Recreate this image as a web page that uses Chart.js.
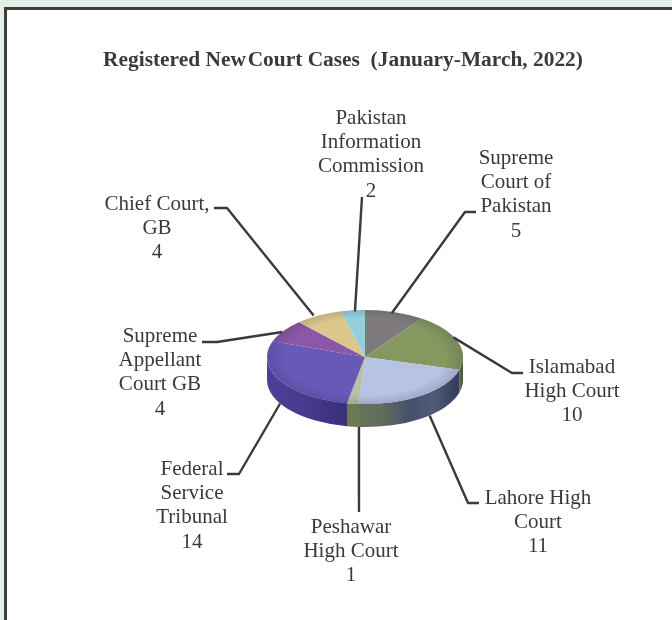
<!DOCTYPE html>
<html lang="en">

<head>
    <meta charset="UTF-8">
    <title>Registered New Court Cases</title>
    <script src="https://cdn.jsdelivr.net/npm/chart.js"></script>
    <style>
        html, body { margin: 0; padding: 0; background: #e3f0e6; }
        #frame { position: absolute; left: 4px; top: 7px; width: 668px; height: 613px; box-sizing: border-box;
                 background: #fff; border-left: 3px solid #3e3e3e; border-top: 3px solid #3e3e3e; }
        #myChart { position: absolute; left: 0; top: 0; }
    </style>
</head>

<body>
    <div id="frame"></div>
    <canvas id="myChart" width="672" height="620"></canvas>
    <script>
        const chartTitle = 'Registered New\u200ACourt Cases  (January-March, 2022)';
        // wrapped like in the picture
        const categories = [
            ['Supreme', 'Court of', 'Pakistan'],
            ['Islamabad', 'High Court'],
            ['Lahore High', 'Court'],
            ['Peshawar', 'High Court'],
            ['Federal', 'Service', 'Tribunal'],
            ['Supreme', 'Appellant', 'Court GB'],
            ['Chief Court,', 'GB'],
            ['Pakistan', 'Information', 'Commission']
        ];
        const caseCounts = [5, 10, 11, 1, 14, 4, 4, 2];

        // slice colours, top face and side wall (left to right)
        const topColors = ['#7f7b7d', '#84985f', '#b7c3e3', '#b4c1a6', '#6858b8', '#8a58a6', '#dcc88c', '#93cfdd'];
        const wallColors = [
            ['#555'], ['#5d6f45', '#46523a'],
            ['#66735a', '#5f6c5c', '#46506e', '#4f5a78', '#333c58'],
            ['#6c7a52', '#6c7a52'], ['#4c3f98', '#463a8c', '#3a2f78'],
            ['#5a3a70'], ['#999'], ['#789']
        ];

        // label centre x, first line y, leader elbow and stub end
        const labelX = [516, 572, 538, 351, 192, 160, 157, 371];
        const labelY = [158, 367, 498, 527, 469, 336, 204, 118];
        const elbows = [[465, 212], [512, 373], [468, 503], [359, 512], [239, 474], [217, 342], [227, 208], [362, 197]];
        const stubEnds = [[476, 212], [523, 373], [479, 503], null, [227, 474], [202, 342], [214, 208], null];
        // the leaders don't start exactly at the slice middle
        const leaderNudge = [[-3, 1], [-4, -4], [8, -3], [6, 0], [0, 0], [-1, 1], [-5, 0], [2, 1]];

        const squash = 0.48;
        const depth = 23;
        const lineH = 24.4;
        const inkColor = '#3a3a3a';

        // arcs get squashed into an ellipse and a side wall is put under them
        const pie3d = {
            id: 'pie3d',
            beforeDatasetsDraw(chart) {
                const ctx = chart.ctx;
                const arcs = chart.getDatasetMeta(0).data;
                const cx = arcs[0].x, cy = arcs[0].y, rx = arcs[0].outerRadius, ry = rx * squash;
                ctx.save();
                arcs.forEach(function (arc, i) {
                    const a0 = Math.max(arc.startAngle, 0);
                    const a1 = Math.min(arc.endAngle, Math.PI);
                    if (a1 <= a0) return;
                    const x0 = cx + rx * Math.cos(a1), x1 = cx + rx * Math.cos(a0);
                    const grad = ctx.createLinearGradient(x0, 0, x1, 0);
                    const stops = wallColors[i];
                    stops.forEach(function (c, k) {
                        grad.addColorStop(stops.length > 1 ? k / (stops.length - 1) : 0, c);
                    });
                    ctx.beginPath();
                    ctx.ellipse(cx, cy, rx, ry, 0, a0, a1);
                    ctx.ellipse(cx, cy + depth, rx, ry, 0, a1, a0, true);
                    ctx.closePath();
                    ctx.fillStyle = grad;
                    ctx.fill();
                });
                ctx.restore();

                ctx.save();
                ctx.translate(cx, cy);
                ctx.scale(1, squash);
                ctx.translate(-cx, -cy);
            },
            afterDatasetsDraw(chart) {
                const ctx = chart.ctx;
                const arcs = chart.getDatasetMeta(0).data;
                const cx = arcs[0].x, cy = arcs[0].y, rx = arcs[0].outerRadius, ry = rx * squash;

                // soft bevel round the rim
                const bevel = ctx.createRadialGradient(cx, cy, rx * 0.82, cx, cy, rx);
                bevel.addColorStop(0, 'rgba(40,30,70,0)');
                bevel.addColorStop(1, 'rgba(40,30,70,0.16)');
                ctx.beginPath();
                ctx.arc(cx, cy, rx, 0, Math.PI * 2);
                ctx.fillStyle = bevel;
                ctx.fill();
                ctx.restore();

                ctx.save();
                ctx.strokeStyle = inkColor;
                ctx.lineWidth = 2.4;
                ctx.lineJoin = 'round';
                ctx.fillStyle = inkColor;
                ctx.textAlign = 'center';
                ctx.textBaseline = 'middle';

                arcs.forEach(function (arc, i) {
                    const mid = (arc.startAngle + arc.endAngle) / 2;
                    const sx = cx + rx * Math.cos(mid) + leaderNudge[i][0];
                    let sy = cy + ry * Math.sin(mid) + leaderNudge[i][1];
                    if (Math.sin(mid) > 0) sy += depth;
                    ctx.beginPath();
                    ctx.moveTo(sx, sy);
                    ctx.lineTo(elbows[i][0], elbows[i][1]);
                    if (stubEnds[i]) ctx.lineTo(stubEnds[i][0], stubEnds[i][1]);
                    ctx.stroke();

                    ctx.font = '21px "Liberation Serif"';
                    categories[i].concat(String(caseCounts[i])).forEach(function (line, k) {
                        ctx.fillText(line, labelX[i], labelY[i] + k * lineH);
                    });
                });

                ctx.font = 'bold 21.4px "Liberation Serif"';
                ctx.fillText(chartTitle, 343, 60);
                ctx.restore();
            }
        };

        new Chart(document.getElementById('myChart'), {
            type: 'pie',
            data: {
                labels: categories.map(function (c) { return c.join(' '); }),
                datasets: [{
                    data: caseCounts,
                    backgroundColor: topColors,
                    borderWidth: 0
                }]
            },
            options: {
                responsive: false,
                animation: false,
                layout: { padding: { left: 267, right: 209, top: 259, bottom: 165 } },
                plugins: {
                    legend: { display: false },
                    title: { display: false },
                    tooltip: { enabled: false }
                }
            },
            plugins: [pie3d]
        });
    </script>
</body>

</html>
